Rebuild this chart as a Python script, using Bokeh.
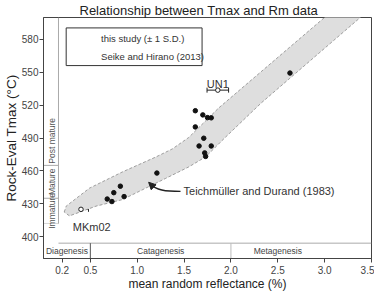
import numpy as np
from bokeh.plotting import figure
from bokeh.models import (Label, ColumnDataSource, Whisker, TeeHead, FixedTicker,
                          Range1d, Arrow, NormalHead, NumeralTickFormatter, BoxAnnotation, Title)
from bokeh.embed import file_html
from bokeh.resources import INLINE

# ---------------- data ----------------
seike_rm = [2.63, 1.62, 1.70, 1.75, 1.79, 1.62, 1.71, 1.66, 1.79, 1.72, 1.73,
            1.21, 0.82, 0.75, 0.68, 0.73, 0.86]
seike_tmax = [549.3, 514.9, 511.1, 508.6, 508.4, 500.1, 489.8, 482.7, 482.7, 476.4, 473.2,
              458.0, 446.0, 440.1, 434.3, 432.0, 436.5]

study_names = ["UN1", "MKm02"]
study_rm = [1.86, 0.40]
study_tmax = [533.7, 424.9]
study_sd = [0.115, 0.08]

# Teichmüller and Durand (1983) band edges
band_upper_rm = [0.221, 0.242, 0.49, 0.844, 1.197, 1.374, 1.55, 1.656, 1.868, 3.031]
band_upper_tmax = [422.4, 427.8, 444.2, 459.1, 472.6, 480.0, 490.5, 499.4, 517.3, 602.4]
band_lower_rm = [0.277, 0.561, 0.844, 1.126, 1.303, 1.55, 1.727, 1.833, 1.939, 2.321, 3.413]
band_lower_tmax = [418.9, 427.8, 433.8, 445.7, 453.1, 463.6, 472.6, 481.5, 490.5, 521.8, 602.4]

x_ticks = [0.2, 0.5, 1.0, 1.5, 2.0, 2.5, 3.0, 3.5]
y_ticks = [400, 430, 460, 490, 520, 550, 580]

maturity_names = ["Immature", "Mature", "Post mature"]
maturity_bounds = [412, 435, 465, 600]
stage_names = ["Diagenesis", "Catagenesis", "Metagenesis"]
stage_bounds = [0.0, 0.5, 2.0, 3.0]

FONT = "Liberation Sans"

p = figure(width=374, height=293, x_range=Range1d(0, 3.5), y_range=Range1d(380, 600),
           output_backend="svg", toolbar_location=None,
           min_border_left=41, min_border_right=3, min_border_top=15, min_border_bottom=30)
p.background_fill_color = "white"
p.border_fill_color = "white"
p.grid.visible = False
p.outline_line_color = "#444444"
p.outline_line_width = 1

# title
p.title = Title(text="Relationship between Tmax and Rm data", align="left", offset=36,
                text_font=FONT, text_font_size="13px", text_font_style="normal",
                text_color="#222222", standoff=0)

for ax in (p.xaxis[0], p.yaxis[0]):
    ax.axis_line_color = "#444444"
    ax.major_tick_line_color = "#444444"
    ax.major_tick_in = 0
    ax.major_tick_out = 4
    ax.minor_tick_line_color = None
    ax.major_label_text_font = FONT
    ax.major_label_text_font_size = "10px"
    ax.major_label_text_color = "#444444"
    ax.axis_label_text_font = FONT
    ax.axis_label_text_font_style = "normal"
    ax.axis_label_text_color = "#222222"
p.xaxis.ticker = FixedTicker(ticks=x_ticks)
p.xaxis.formatter = NumeralTickFormatter(format="0.0")
p.xaxis.major_label_standoff = 3
p.xaxis.axis_label = "mean random reflectance (%)"
p.xaxis.axis_label_text_font_size = "12px"
p.xaxis.axis_label_standoff = 0
p.yaxis.ticker = FixedTicker(ticks=y_ticks)
p.yaxis.major_label_standoff = 1
p.yaxis.axis_label = "Rock-Eval Tmax (°C)"
p.yaxis.axis_label_text_font_size = "13.5px"
p.yaxis.axis_label_standoff = 0


def dlabel(x, y, text, size, align="left", baseline="middle", angle=0.0, color="#333333"):
    p.add_layout(Label(x=x, y=y, text=text, angle=angle, text_align=align, text_baseline=baseline,
                       text_font=FONT, text_font_size=size, text_color=color))


# ---- band ----
bx = band_upper_rm + band_lower_rm[::-1]
by = band_upper_tmax + band_lower_tmax[::-1]
p.patch(bx, by, fill_color="#dedede", line_color="#8a8a8a", line_width=0.8, line_dash="3 2")

# ---- maturity column ----
col_x = 0.16
p.line([col_x, col_x], [maturity_bounds[0], maturity_bounds[-1]], line_color="#aaaaaa", line_width=1)
for b in maturity_bounds[1:3]:
    p.line([0, col_x], [b, b], line_color="#aaaaaa", line_width=1)
p.line([0, col_x], [maturity_bounds[0], maturity_bounds[0]], line_color="#aaaaaa", line_width=1, line_dash="1 1")
dlabel(0.095, (maturity_bounds[0] + maturity_bounds[1]) / 2, maturity_names[0], "8.5px",
       align="center", angle=np.pi / 2, color="#555555")
dlabel(0.095, (maturity_bounds[1] + maturity_bounds[2]) / 2, maturity_names[1], "8.5px",
       align="center", angle=np.pi / 2, color="#555555")
dlabel(0.095, maturity_bounds[2] + 1.5, maturity_names[2], "8.5px",
       align="left", angle=np.pi / 2, color="#555555")

# ---- stage row ----
row_y = 394
p.line([col_x, 3.5], [row_y, row_y], line_color="#aaaaaa", line_width=1)
p.line([stage_bounds[1], stage_bounds[1]], [380, row_y], line_color="#555555", line_width=1)
p.line([stage_bounds[2], stage_bounds[2]], [380, row_y], line_color="#bbbbbb", line_width=1)
for i, name in enumerate(stage_names):
    dlabel((stage_bounds[i] + stage_bounds[i + 1]) / 2, 386.8, name, "8.5px", align="center", color="#444444")

# ---- Seike and Hirano points ----
p.scatter(seike_rm, seike_tmax, size=4.5, marker="circle", fill_color="#111111", line_color="#111111")

# ---- this study ----
src = ColumnDataSource(dict(x=study_rm, y=study_tmax,
                            lo=[r - s for r, s in zip(study_rm, study_sd)],
                            hi=[r + s for r, s in zip(study_rm, study_sd)]))
p.add_layout(Whisker(source=src, base="y", lower="lo", upper="hi", dimension="width",
                     line_color="#222222", line_width=1,
                     upper_head=TeeHead(size=5, line_color="#222222", line_width=1),
                     lower_head=TeeHead(size=5, line_color="#222222", line_width=1)))
p.scatter("x", "y", source=src, size=4.5, marker="circle", fill_color="white", line_color="#222222")
dlabel(study_rm[0], study_tmax[0] + 5.6, study_names[0], "11px", align="center", baseline="alphabetic")
dlabel(0.313, 409, study_names[1], "11px", align="left", baseline="alphabetic")

# ---- annotation arrow ----
p.bezier(x0=[1.462], y0=[441.2], x1=[1.14], y1=[448.0], cx0=[1.30], cy0=[441.2], cx1=[1.20], cy1=[442.5],
         line_color="#222222", line_width=1.3)
p.add_layout(Arrow(end=NormalHead(size=7, fill_color="#222222", line_color="#222222"),
                   x_start=1.15, y_start=447.2, x_end=1.122, y_end=449.6,
                   line_color="#222222", line_width=1.3))
dlabel(1.494, 441.2, "Teichmüller and Durand (1983)", "11px", align="left")

# ---- legend (drawn) ----
p.add_layout(BoxAnnotation(left=0.242, right=1.692, bottom=556.1, top=590.5, fill_color="white",
                           fill_alpha=1, line_color="#333333", line_width=1, line_alpha=1))
lsrc = ColumnDataSource(dict(x=[0.423], y=[580.6], lo=[0.32], hi=[0.525]))
p.add_layout(Whisker(source=lsrc, base="y", lower="lo", upper="hi", dimension="width",
                     line_color="#222222", line_width=1,
                     upper_head=TeeHead(size=5, line_color="#222222", line_width=1),
                     lower_head=TeeHead(size=5, line_color="#222222", line_width=1)))
p.scatter("x", "y", source=lsrc, size=4.5, marker="circle", fill_color="white", line_color="#222222")
p.scatter([0.42], [564.5], size=4.5, marker="circle", fill_color="#111111", line_color="#111111")
dlabel(0.614, 580.6, "this study (± 1 S.D.)", "9.5px")
dlabel(0.614, 564.5, "Seike and Hirano (2013)", "9.5px")

open("out.html", "w").write(file_html(p, INLINE))
